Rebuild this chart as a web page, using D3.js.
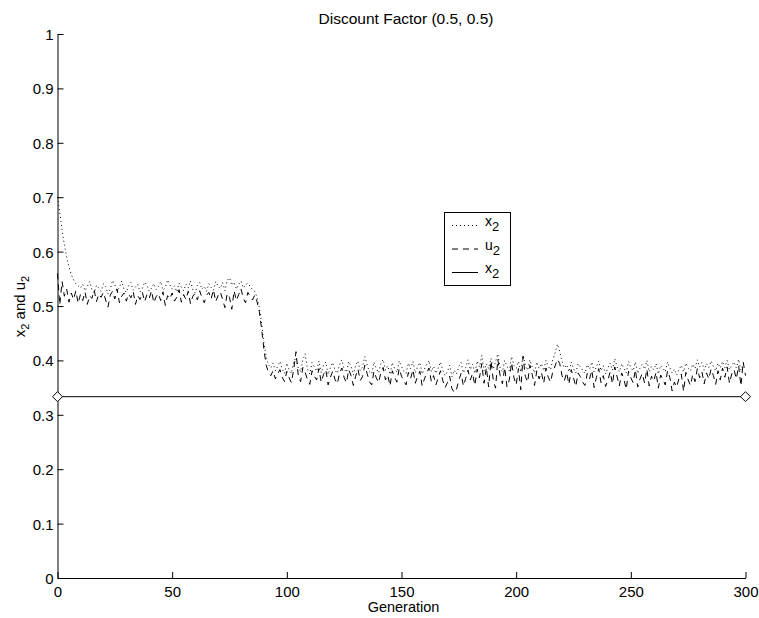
<!DOCTYPE html>
<html>
<head>
<meta charset="utf-8">
<script src="https://cdn.jsdelivr.net/npm/d3@7"></script>
<style>
  html, body { margin: 0; padding: 0; background: #fff; }
  svg { display: block; font-family: "Liberation Sans", Arial, Helvetica, sans-serif; }
</style>
</head>
<body>
<svg id="chart" width="759" height="618"></svg>
<script>
// Average proportion x2 per generation (dotted)
const x2Mean = [
  0.700,0.672,0.640,0.612,0.590,0.572,0.558,0.548,0.541,0.537,
  0.533,0.540,0.528,0.536,0.545,0.530,0.524,0.538,0.533,0.527,
  0.541,0.536,0.522,0.530,0.547,0.539,0.528,0.534,0.546,0.531,
  0.525,0.537,0.543,0.529,0.535,0.540,0.526,0.532,0.544,0.538,
  0.527,0.533,0.541,0.530,0.536,0.545,0.529,0.534,0.548,0.539,
  0.531,0.537,0.526,0.542,0.535,0.528,0.540,0.533,0.546,0.530,
  0.524,0.538,0.543,0.531,0.536,0.527,0.541,0.534,0.529,0.545,
  0.537,0.532,0.543,0.528,0.547,0.552,0.538,0.544,0.531,0.540,
  0.546,0.533,0.539,0.542,0.536,0.530,0.527,0.516,0.497,0.468,
  0.432,0.407,0.392,0.386,0.395,0.381,0.389,0.398,0.384,0.376,
  0.395,0.383,0.376,0.398,0.405,0.386,0.379,0.401,0.412,0.384,
  0.375,0.396,0.388,0.380,0.399,0.377,0.391,0.397,0.374,0.387,
  0.396,0.382,0.376,0.392,0.401,0.384,0.378,0.398,0.389,0.373,
  0.391,0.399,0.381,0.388,0.407,0.392,0.379,0.375,0.397,0.385,
  0.377,0.394,0.402,0.382,0.390,0.374,0.396,0.385,0.378,0.399,
  0.389,0.380,0.376,0.395,0.385,0.398,0.377,0.388,0.396,0.375,
  0.384,0.393,0.400,0.379,0.389,0.376,0.386,0.397,0.382,0.372,
  0.379,0.391,0.370,0.382,0.375,0.389,0.396,0.377,0.387,0.401,
  0.383,0.393,0.376,0.399,0.388,0.409,0.381,0.394,0.385,0.404,
  0.384,0.397,0.412,0.386,0.379,0.400,0.389,0.381,0.407,0.391,
  0.385,0.398,0.379,0.410,0.390,0.382,0.401,0.388,0.377,0.397,
  0.385,0.394,0.381,0.400,0.389,0.383,0.402,0.414,0.430,0.416,
  0.398,0.386,0.392,0.379,0.397,0.385,0.377,0.394,0.388,0.382,
  0.376,0.392,0.384,0.397,0.379,0.388,0.399,0.381,0.390,0.375,
  0.386,0.395,0.382,0.403,0.388,0.379,0.394,0.386,0.377,0.398,
  0.387,0.381,0.397,0.376,0.386,0.393,0.384,0.400,0.379,0.389,
  0.383,0.394,0.375,0.391,0.386,0.379,0.397,0.387,0.377,0.384,
  0.373,0.383,0.391,0.379,0.395,0.386,0.381,0.393,0.385,0.401,
  0.388,0.396,0.382,0.394,0.387,0.399,0.389,0.381,0.395,0.386,
  0.398,0.387,0.400,0.383,0.391,0.397,0.386,0.402,0.382,0.394,
  0.390
];

// Average demand u2 per generation (dashed)
const u2Mean = [
  0.560,0.502,0.545,0.518,0.531,0.507,0.524,0.512,0.528,0.505,
  0.521,0.510,0.526,0.503,0.519,0.514,0.529,0.508,0.522,0.516,
  0.525,0.511,0.498,0.520,0.527,0.513,0.531,0.506,0.518,0.524,
  0.509,0.522,0.515,0.527,0.503,0.519,0.512,0.525,0.508,0.521,
  0.514,0.528,0.506,0.517,0.523,0.510,0.526,0.501,0.519,0.513,
  0.524,0.509,0.516,0.530,0.507,0.521,0.512,0.527,0.504,0.518,
  0.523,0.511,0.528,0.515,0.506,0.520,0.525,0.513,0.530,0.508,
  0.519,0.526,0.512,0.497,0.523,0.516,0.494,0.528,0.510,0.521,
  0.532,0.514,0.506,0.525,0.518,0.511,0.520,0.508,0.490,0.458,
  0.420,0.391,0.378,0.372,0.381,0.366,0.375,0.383,0.369,0.361,
  0.380,0.368,0.359,0.384,0.416,0.372,0.361,0.387,0.378,0.365,
  0.356,0.381,0.371,0.364,0.385,0.360,0.374,0.383,0.355,0.369,
  0.380,0.365,0.357,0.377,0.386,0.368,0.359,0.383,0.372,0.354,
  0.371,0.384,0.363,0.370,0.391,0.376,0.361,0.355,0.380,0.368,
  0.359,0.377,0.387,0.364,0.373,0.353,0.381,0.369,0.360,0.385,
  0.371,0.362,0.355,0.378,0.367,0.383,0.358,0.370,0.380,0.353,
  0.366,0.377,0.386,0.361,0.372,0.355,0.368,0.381,0.363,0.350,
  0.359,0.371,0.348,0.341,0.347,0.364,0.376,0.353,0.367,0.382,
  0.364,0.376,0.354,0.384,0.368,0.394,0.358,0.387,0.351,0.399,
  0.365,0.349,0.402,0.372,0.357,0.387,0.351,0.364,0.396,0.369,
  0.355,0.385,0.346,0.407,0.371,0.360,0.391,0.374,0.354,0.381,
  0.366,0.378,0.358,0.386,0.369,0.360,0.380,0.390,0.402,0.394,
  0.372,0.362,0.378,0.356,0.383,0.368,0.352,0.377,0.370,0.360,
  0.354,0.376,0.366,0.382,0.350,0.369,0.385,0.359,0.372,0.352,
  0.364,0.379,0.357,0.388,0.370,0.353,0.377,0.365,0.347,0.380,
  0.368,0.359,0.383,0.351,0.366,0.376,0.358,0.384,0.353,0.371,
  0.362,0.378,0.349,0.373,0.365,0.355,0.381,0.369,0.344,0.360,
  0.351,0.367,0.375,0.343,0.378,0.364,0.354,0.374,0.361,0.385,
  0.368,0.379,0.357,0.377,0.366,0.384,0.372,0.356,0.381,0.364,
  0.386,0.369,0.388,0.358,0.375,0.383,0.366,0.390,0.353,0.397,
  0.372
];

// Equilibrium value of x2 (solid line with diamond end markers)
const eqGen = [0, 300];
const eqVal = [0.3333, 0.3333];

const xTicks = [0, 50, 100, 150, 200, 250, 300];
const yTicks = [0, 0.1, 0.2, 0.3, 0.4, 0.5, 0.6, 0.7, 0.8, 0.9, 1];
const yTickLabels = ["0", "0.1", "0.2", "0.3", "0.4", "0.5", "0.6", "0.7", "0.8", "0.9", "1"];

const svg = d3.select("#chart");
const plotLeft = 57.5, plotRight = 745.5, plotTop = 34, plotBottom = 578;

const x = d3.scaleLinear().domain([0, 300]).range([plotLeft, plotRight]);
const y = d3.scaleLinear().domain([0, 1]).range([plotBottom, plotTop]);

// Axes (left and bottom only, ticks pointing inward)
const xAxis = svg.append("g").attr("transform", `translate(0,${plotBottom})`)
  .call(d3.axisBottom(x).tickValues(xTicks).tickSizeInner(-6).tickSizeOuter(0).tickFormat(d3.format("d")));
const yAxis = svg.append("g").attr("transform", `translate(${plotLeft},0)`)
  .call(d3.axisLeft(y).tickValues(yTicks).tickSizeInner(-6).tickSizeOuter(0)
    .tickFormat((d, i) => yTickLabels[i]));

[xAxis, yAxis].forEach(g => {
  g.select(".domain").attr("stroke", "#000").attr("stroke-width", 1);
  g.selectAll(".tick line").attr("stroke", "#000").attr("stroke-width", 1);
  g.selectAll(".tick text").attr("fill", "#000").attr("font-size", 15)
    .attr("font-family", "'Liberation Sans', Arial, sans-serif");
});
xAxis.selectAll(".tick text").attr("dy", null).attr("y", 18.5);
yAxis.selectAll(".tick text").attr("x", -4).attr("dy", "0.36em");

const gens = d3.range(x2Mean.length);

const line = d3.line().x(d => x(d[0])).y(d => y(d[1]));

// x2 dotted
svg.append("path")
  .datum(gens.map(i => [i, x2Mean[i]]))
  .attr("d", line)
  .attr("fill", "none")
  .attr("stroke", "#000")
  .attr("stroke-width", 1)
  .attr("stroke-dasharray", "1,3");

// u2 dashed
svg.append("path")
  .datum(gens.map(i => [i, u2Mean[i]]))
  .attr("d", line)
  .attr("fill", "none")
  .attr("stroke", "#000")
  .attr("stroke-width", 1)
  .attr("stroke-dasharray", "6,5");

// equilibrium solid line
svg.append("path")
  .datum(eqGen.map((g, i) => [g, eqVal[i]]))
  .attr("d", line)
  .attr("fill", "none")
  .attr("stroke", "#000")
  .attr("stroke-width", 1);

svg.selectAll(".eq-marker")
  .data(eqGen.map((g, i) => [g, eqVal[i]]))
  .enter().append("path")
  .attr("class", "eq-marker")
  .attr("transform", d => `translate(${x(d[0])},${y(d[1])})`)
  .attr("d", "M0,-5L5,0L0,5L-5,0Z")
  .attr("fill", "#fff")
  .attr("stroke", "#000")
  .attr("stroke-width", 1);

// Title and axis labels
svg.append("text")
  .attr("x", 406).attr("y", 24)
  .attr("text-anchor", "middle")
  .attr("font-size", 15.5)
  .text("Discount Factor (0.5, 0.5)");

svg.append("text")
  .attr("x", 403.5).attr("y", 612)
  .attr("text-anchor", "middle")
  .attr("font-size", 14.5)
  .text("Generation");

const yl = svg.append("text")
  .attr("transform", `translate(25,306.5) rotate(-90)`)
  .attr("text-anchor", "middle")
  .attr("font-size", 15);
yl.append("tspan").text("x");
yl.append("tspan").attr("font-size", 11).attr("dy", 4).text("2");
yl.append("tspan").attr("dy", -4).text(" and u");
yl.append("tspan").attr("font-size", 11).attr("dy", 4).text("2");

// Legend
const legend = svg.append("g");
legend.append("rect")
  .attr("x", 444.5).attr("y", 212.5).attr("width", 66).attr("height", 73)
  .attr("fill", "#fff").attr("stroke", "#000").attr("stroke-width", 1);

const legendItems = [
  { sym: "x", dash: "1,3" },
  { sym: "u", dash: "6,5" },
  { sym: "x", dash: null }
];
legendItems.forEach((it, i) => {
  const cy = 225 + i * 23.5;
  const ln = legend.append("line")
    .attr("x1", 452).attr("x2", 478)
    .attr("y1", cy + 0.5).attr("y2", cy + 0.5)
    .attr("stroke", "#000").attr("stroke-width", 1);
  if (it.dash) ln.attr("stroke-dasharray", it.dash);
  const t = legend.append("text")
    .attr("x", 485).attr("y", cy + 1)
    .attr("font-size", 14);
  t.append("tspan").text(it.sym);
  t.append("tspan").attr("font-size", 13).attr("dy", 5).text("2");
});
</script>
</body>
</html>
